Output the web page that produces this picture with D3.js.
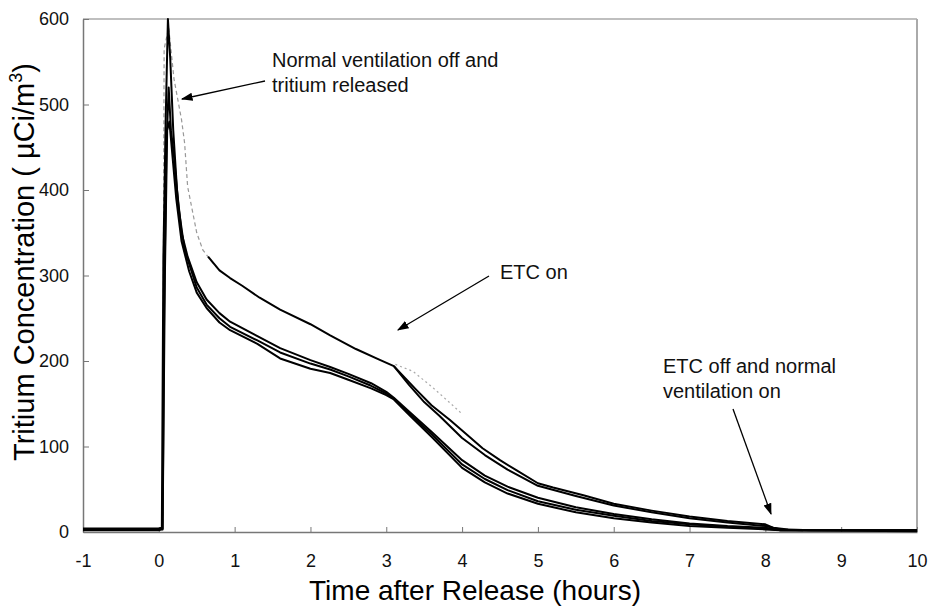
<!DOCTYPE html>
<html>
<head>
<meta charset="utf-8">
<script src="https://cdn.jsdelivr.net/npm/d3@7"></script>
<style>
  body { margin: 0; background: #fff; }
  svg { display: block; font-family: "Liberation Sans", Arial, sans-serif; }
</style>
</head>
<body>
<script>
// tick labels
const xTicks = [-1, 0, 1, 2, 3, 4, 5, 6, 7, 8, 9, 10];
const yTicks = [0, 100, 200, 300, 400, 500, 600];

// [hours, uCi/m3]
const upper = [[0.65,322],[0.8,306],[0.94,297],[1.1,288],[1.33,274],[1.6,260],[2,243],[2.26,230],[2.6,214],[2.9,202],[3.1,194],[3.25,180],[3.4,166],[3.6,148],[3.84,131],[4.05,115],[4.27,98],[4.5,84],[4.72,72],[5,57],[5.2,52],[5.6,43],[6,33],[6.5,25],[7,18],[7.5,13],[8,9],[8.1,5],[8.3,3],[8.6,2],[10,2]];
const upper2 = [[3.1,194],[3.3,172],[3.5,152],[3.7,136],[4,110],[4.3,90],[4.6,73],[5,54],[5.5,42],[6,31],[6.5,23],[7,16],[7.5,11],[8,7],[8.2,3],[8.5,2]];
const low1 = [[-1,4],[-0.5,4],[0,4],[0.04,5],[0.06,320],[0.09,480],[0.12,600],[0.15,555],[0.19,470],[0.24,400],[0.3,350],[0.38,322],[0.5,292],[0.63,272],[0.8,256],[0.94,246],[1.3,229],[1.6,215],[2,201],[2.26,193],[2.5,185],[2.8,174],[3,164],[3.1,157],[3.3,141],[3.6,117],[4,84],[4.3,66],[4.6,53],[5,40],[5.5,29],[6,21],[6.5,15],[7,10],[7.5,7],[8,5],[8.2,2],[10,2]];
const low2 = [[-1,2],[0,2],[0.05,4],[0.07,260],[0.1,450],[0.13,520],[0.16,470],[0.2,440],[0.26,380],[0.34,330],[0.5,286],[0.63,266],[0.8,250],[0.94,240],[1.3,224],[1.6,210],[2,197],[2.26,190],[2.5,182],[2.8,171],[3,162],[3.1,156],[3.3,139],[3.6,114],[4,79],[4.3,62],[4.6,49],[5,36],[5.5,26],[6,19],[6.5,13],[7,9],[7.5,6],[8,4],[8.2,2],[10,1]];
const low3 = [[-1,3],[0,3],[0.05,3],[0.08,300],[0.11,470],[0.14,480],[0.18,440],[0.23,390],[0.3,340],[0.4,305],[0.5,280],[0.63,262],[0.8,245],[0.94,236],[1.3,220],[1.6,203],[2,191],[2.26,186],[2.5,178],[2.8,168],[3,160],[3.1,155],[3.3,137],[3.6,111],[4,75],[4.3,58],[4.6,45],[5,33],[5.5,23],[6,16],[6.5,11],[7,7],[7.5,5],[8,3],[8.2,2],[10,2]];
const faintEarly = [[0.05,2],[0.07,565],[0.13,590],[0.2,530],[0.3,482],[0.34,455],[0.38,404],[0.5,350],[0.58,330],[0.7,316],[0.8,306]];
const faintLate = [[3.12,196],[3.35,188],[3.6,170],[3.84,151],[4.0,138]];

const W = 930, H = 607;
const m = { left: 83, right: 13, top: 19, bottom: 75 };

const svg = d3.select("body").append("svg")
  .attr("width", W).attr("height", H);

const x = d3.scaleLinear().domain([-1, 10]).range([m.left, W - m.right]);
const y = d3.scaleLinear().domain([0, 600]).range([H - m.bottom, m.top]);

const line = d3.line().x(d => x(d[0])).y(d => y(d[1]));

// frame top + right
svg.append("line")
  .attr("x1", x(-1)).attr("x2", x(10)).attr("y1", y(600)).attr("y2", y(600))
  .attr("stroke", "#808080").attr("stroke-width", 1.2);
svg.append("line")
  .attr("x1", x(10)).attr("x2", x(10)).attr("y1", y(600)).attr("y2", y(0))
  .attr("stroke", "#aaa").attr("stroke-width", 2);

// axes
const gx = svg.append("g")
  .attr("transform", `translate(0,${y(0)})`)
  .call(d3.axisBottom(x).tickValues(xTicks).tickSize(-5).tickSizeOuter(0).tickPadding(22).tickFormat(d => String(d)));
const gy = svg.append("g")
  .attr("transform", `translate(${x(-1)},0)`)
  .call(d3.axisLeft(y).tickValues(yTicks).tickSize(-6).tickSizeOuter(0).tickPadding(14));

[gx, gy].forEach(g => {
  g.select(".domain").attr("stroke", "#777").attr("stroke-width", 1.5);
  g.selectAll(".tick line").attr("stroke", "#777");
  g.selectAll(".tick text").attr("font-size", 18).attr("fill", "#111")
    .attr("font-family", "Liberation Sans, Arial, sans-serif");
});
gx.selectAll(".tick text").attr("y", 0).attr("dy", 35);

// faint gray traces
svg.append("path").datum(faintEarly).attr("d", line)
  .attr("fill", "none").attr("stroke", "#999").attr("stroke-width", 1.2)
  .attr("stroke-dasharray", "4,3");
svg.append("path").datum(faintLate).attr("d", line)
  .attr("fill", "none").attr("stroke", "#aaa").attr("stroke-width", 1.2)
  .attr("stroke-dasharray", "2,3");

// measured series
const series = [low3, low2, low1, upper2, upper];
svg.selectAll("path.series").data(series).join("path")
  .attr("class", "series")
  .attr("d", line)
  .attr("fill", "none")
  .attr("stroke", "#000")
  .attr("stroke-width", 2)
  .attr("stroke-linejoin", "round");

// axis titles
svg.append("text")
  .attr("x", 475).attr("y", 600)
  .attr("text-anchor", "middle")
  .attr("font-size", 28)
  .text("Time after Release (hours)");

const yt = svg.append("text")
  .attr("transform", `translate(34,262) rotate(-90)`)
  .attr("text-anchor", "middle")
  .attr("font-size", 29);
yt.append("tspan").text("Tritium Concentration ( µCi/m");
yt.append("tspan").attr("font-size", 18).attr("dy", -12).text("3");
yt.append("tspan").attr("dy", 12).text(")");

// annotations
const defs = svg.append("defs");
defs.append("marker").attr("id", "ah")
  .attr("viewBox", "0 0 10 10").attr("refX", 9).attr("refY", 5)
  .attr("markerWidth", 9).attr("markerHeight", 9).attr("orient", "auto")
  .append("path").attr("d", "M0,1.5 L10,5 L0,8.5 z").attr("fill", "#000");

const notes = [
  { lines: ["Normal ventilation off and", "tritium released"], tx: 272, ty: 67, from: [265, 81], to: [182, 99] },
  { lines: ["ETC on"], tx: 500, ty: 279, from: [489, 276], to: [398, 330] },
  { lines: ["ETC off and normal", "ventilation on"], tx: 663, ty: 373, from: [733, 409], to: [771, 514] }
];
notes.forEach(n => {
  const t = svg.append("text").attr("font-size", 20).attr("fill", "#111");
  n.lines.forEach((s, i) => t.append("tspan").attr("x", n.tx).attr("y", n.ty + i * 25).text(s));
  svg.append("line")
    .attr("x1", n.from[0]).attr("y1", n.from[1]).attr("x2", n.to[0]).attr("y2", n.to[1])
    .attr("stroke", "#000").attr("stroke-width", 1.3).attr("marker-end", "url(#ah)");
});
</script>
</body>
</html>
